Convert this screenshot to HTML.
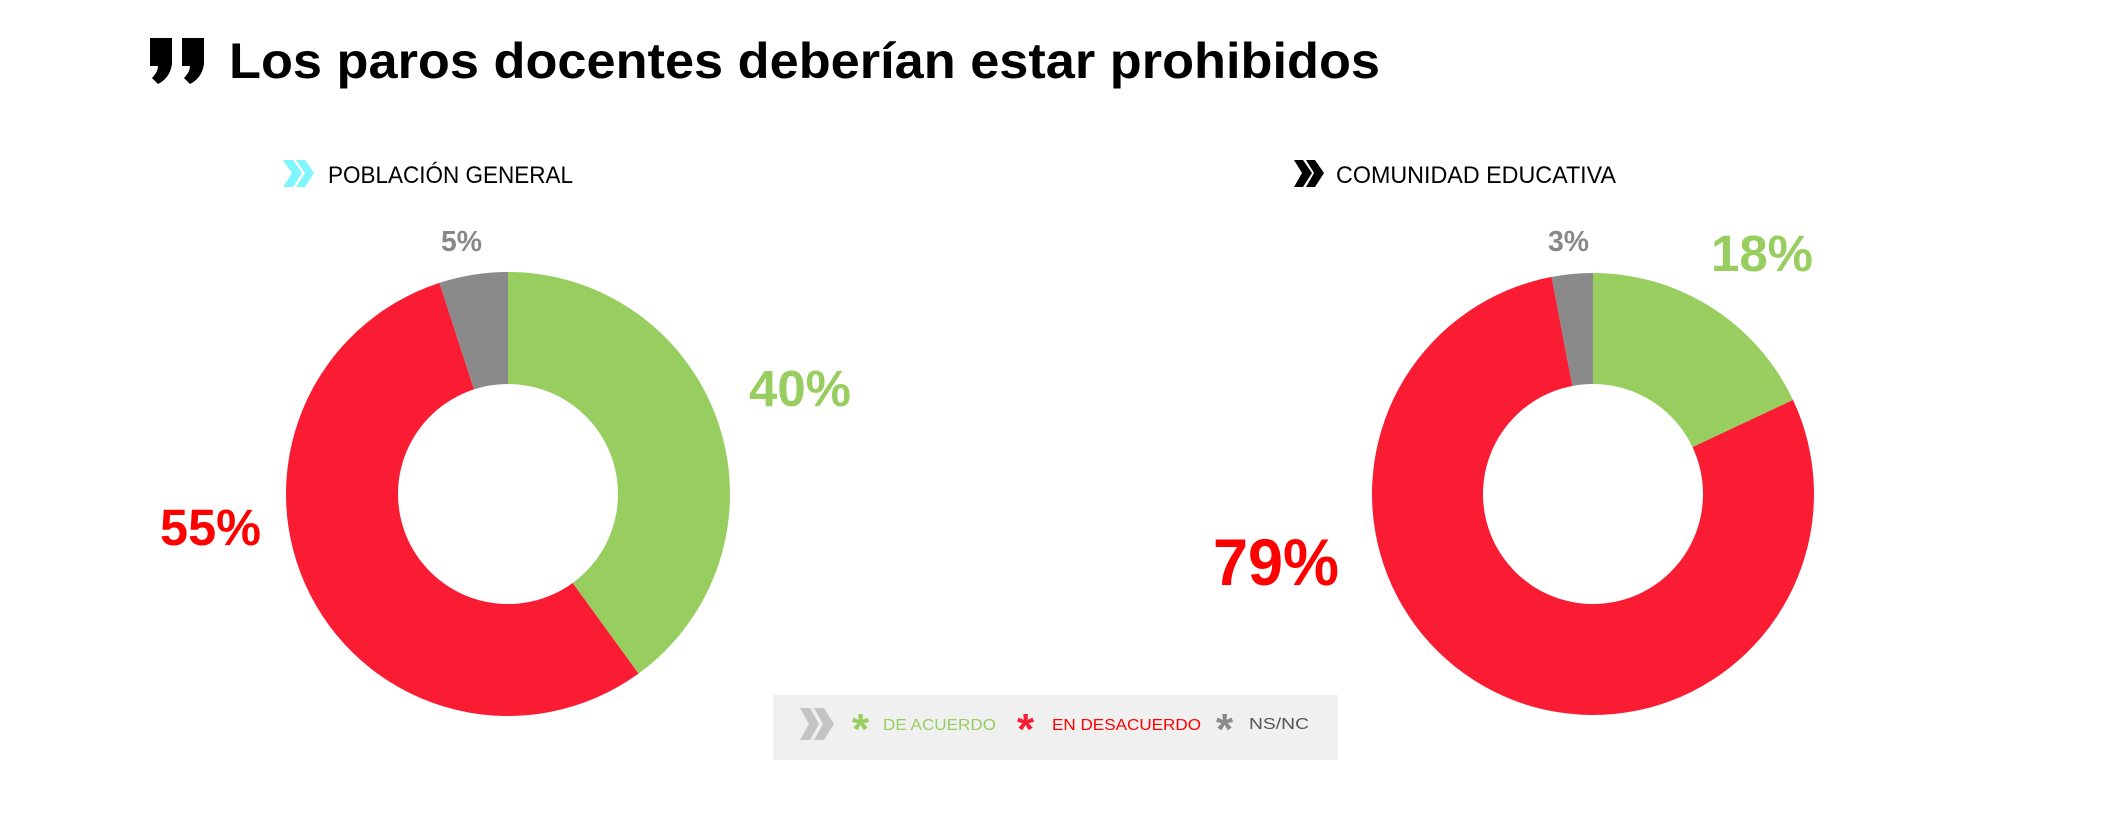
<!DOCTYPE html>
<html><head><meta charset="utf-8"><style>
html,body{margin:0;padding:0;background:#fff;}
svg{display:block;font-family:"Liberation Sans",sans-serif;}
</style></head><body>
<svg id="chart" width="2110" height="818" viewBox="0 0 2110 818">
  <g fill="#000">
    <path d="M150 38 H172 V64 Q170 78 158 84 L152 78 Q158 72 158 66 H150 Z"/>
    <path d="M182 38 H204 V64 Q202 78 190 84 L184 78 Q190 72 190 66 H182 Z"/>
  </g>
  <text x="229" y="78" font-size="50" font-weight="bold" textLength="1151" lengthAdjust="spacingAndGlyphs">Los paros docentes deberían estar prohibidos</text>

  <g>
    <path d="M283 160 L293 160 L302 173 L293 187 L283 187 L292 173 Z M296 160 L305 160 L314 173 L305 187 L296 187 L305 173 Z" fill="#7ff6ff"/>
    <text x="328" y="183" font-size="24" textLength="245" lengthAdjust="spacingAndGlyphs">POBLACIÓN GENERAL</text>
  </g>
  <g>
    <path d="M1294 160 L1303 160 L1312 173 L1303 187 L1294 187 L1302 173 Z M1306 160 L1315 160 L1324 173 L1315 187 L1306 187 L1314 173 Z" fill="#000"/>
    <text x="1336" y="183" font-size="24" textLength="280" lengthAdjust="spacingAndGlyphs">COMUNIDAD EDUCATIVA</text>
  </g>

  <g id="donuts"></g>

  <g>
    <rect x="773" y="695" width="565" height="65" fill="#f0f0f0"/>
    <path d="M800 708 L810 708 L819 724 L810 740 L800 740 L809 724 Z M814 708 L824 708 L834 724 L824 740 L814 740 L823 724 Z" fill="#c4c4c4"/>
    <g>
      <text x="852" y="744" font-size="44" font-weight="bold" fill="#97ce5f">*</text>
      <text x="883" y="730" font-size="16" fill="#97ce5f" textLength="113" lengthAdjust="spacingAndGlyphs">DE ACUERDO</text>
    </g>
    <g>
      <text x="1017" y="744" font-size="44" font-weight="bold" fill="#f91c32">*</text>
      <text x="1052" y="730" font-size="16" fill="#ff0000" textLength="149" lengthAdjust="spacingAndGlyphs">EN DESACUERDO</text>
    </g>
    <g>
      <text x="1216" y="744" font-size="44" font-weight="bold" fill="#8a8a8a">*</text>
      <text x="1249" y="729" font-size="16" fill="#555" textLength="60" lengthAdjust="spacingAndGlyphs">NS/NC</text>
    </g>
  </g>
</svg>
<script>
const categories = ["De acuerdo", "En desacuerdo", "NS/NC"];
const poblacionValues = [40, 55, 5];
const comunidadValues = [18, 79, 3];
const colors = ["#97ce5f", "#f91c32", "#8a8a8a"];
const labelColors = ["#97ce5f", "#ff0000", "#888888"];

const NS = "http://www.w3.org/2000/svg";
const root = document.getElementById("donuts");

function arcPath(cx, cy, r0, r1, a0, a1) {
  const p = (r, a) => [cx + r * Math.sin(a), cy - r * Math.cos(a)];
  const large = a1 - a0 > Math.PI ? 1 : 0;
  const [x0, y0] = p(r1, a0), [x1, y1] = p(r1, a1);
  const [x2, y2] = p(r0, a1), [x3, y3] = p(r0, a0);
  return `M${x0} ${y0} A${r1} ${r1} 0 ${large} 1 ${x1} ${y1} L${x2} ${y2} A${r0} ${r0} 0 ${large} 0 ${x3} ${y3} Z`;
}

function drawDonut(values, cx, cy, rOuter, rInner, name, labelSpecs) {
  const g = document.createElementNS(NS, "g");
  
  
  root.appendChild(g);
  const total = values.reduce((a, b) => a + b, 0);
  let a = 0;
  values.forEach((v, i) => {
    const a1 = a + (v / total) * Math.PI * 2;
    const path = document.createElementNS(NS, "path");
    
    
    path.setAttribute("d", arcPath(cx, cy, rInner, rOuter, a, a1));
    path.setAttribute("fill", colors[i]);
    g.appendChild(path);
    a = a1;
  });
  values.forEach((v, i) => {
    const s = labelSpecs[i];
    const t = document.createElementNS(NS, "text");
    
    
    t.setAttribute("x", s.x);
    t.setAttribute("y", s.y);
    t.setAttribute("font-size", s.size);
    t.setAttribute("font-weight", "bold");
    t.setAttribute("fill", labelColors[i]);
    t.setAttribute("textLength", s.w);
    t.setAttribute("lengthAdjust", "spacingAndGlyphs");
    t.textContent = v + "%";
    g.appendChild(t);
  });
}

drawDonut(poblacionValues, 508, 494, 222, 110, "donut-poblacion-general", [
  {x: 749, y: 406, size: 51, w: 102},
  {x: 160, y: 545, size: 51, w: 101},
  {x: 441, y: 251, size: 29, w: 41}
]);
drawDonut(comunidadValues, 1593, 494, 221, 110, "donut-comunidad-educativa", [
  {x: 1711, y: 271, size: 51, w: 102},
  {x: 1213, y: 585, size: 66, w: 126},
  {x: 1548, y: 251, size: 29, w: 41}
]);
</script>
</body></html>
